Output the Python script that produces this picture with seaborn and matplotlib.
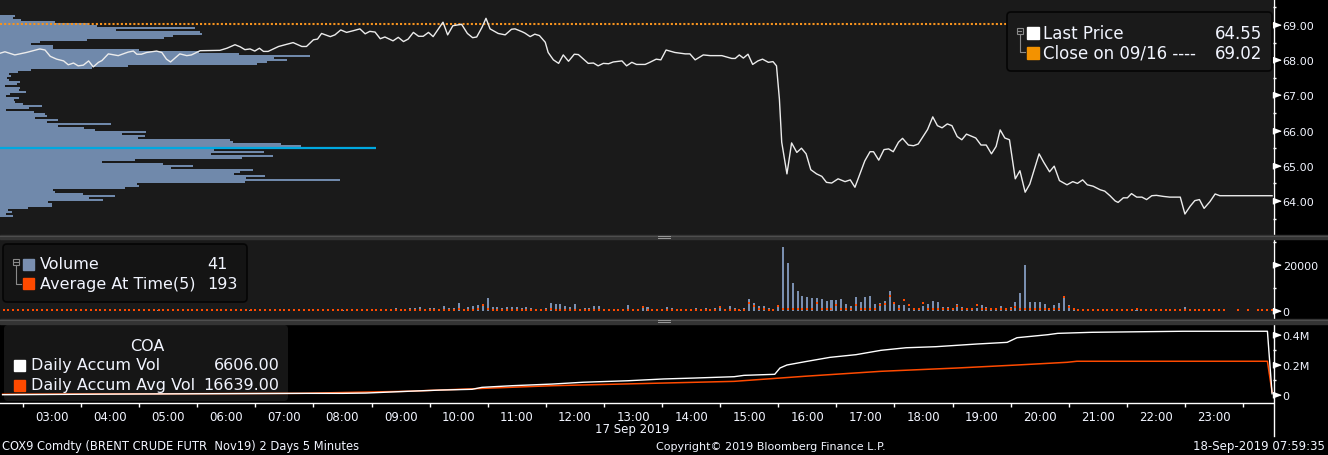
import numpy as np
import pandas as pd
import matplotlib
matplotlib.use("Agg")
import matplotlib.pyplot as plt
import seaborn as sns
from matplotlib.lines import Line2D
from matplotlib.patches import FancyBboxPatch, Rectangle
from matplotlib.transforms import Affine2D

# ---------------- data ----------------
# last price, time in hours of 17 Sep 2019
price_time = [2.11, 2.19, 2.36, 2.56, 2.79, 2.88, 2.97, 3.08, 3.20, 3.28, 3.37, 3.45, 3.54, 3.63, 3.71,
              3.80, 3.86, 3.97, 4.14, 4.31, 4.40, 4.46, 4.54, 4.63, 4.80, 4.89, 4.97, 5.04, 5.20, 5.32,
              5.40, 5.55, 5.89, 6.01, 6.15, 6.24, 6.32, 6.41, 6.49, 6.57, 6.64, 6.72, 6.90, 7.15, 7.30,
              7.38, 7.50, 7.57, 7.64, 7.79, 7.87, 7.97, 8.07, 8.19, 8.30, 8.39, 8.47, 8.56, 8.65,
              8.73, 8.87, 8.96, 9.05, 9.13, 9.22, 9.31, 9.39, 9.48, 9.56, 9.73, 9.81, 9.90, 10.05, 10.15,
              10.24, 10.31, 10.40, 10.47, 10.54, 10.68, 10.80, 10.91, 10.97, 11.09, 11.14, 11.23, 11.31,
              11.39, 11.49, 11.54, 11.63, 11.72, 11.80, 11.89, 11.99, 12.06, 12.23, 12.32, 12.40, 12.49,
              12.58, 12.66, 12.81, 12.89, 12.98, 13.06, 13.21, 13.29, 13.40, 13.48, 13.57, 13.72, 13.90,
              13.98, 14.07, 14.21, 14.33, 14.53, 14.70, 14.76, 14.83, 14.90, 14.98, 15.06, 15.15, 15.23,
              15.33, 15.41, 15.47, 15.52, 15.56, 15.65, 15.73, 15.82, 15.90, 15.98, 16.06, 16.16, 16.25,
              16.33, 16.42, 16.53, 16.65, 16.74, 16.82, 16.99, 17.08, 17.14, 17.23, 17.32, 17.40, 17.48,
              17.57, 17.64, 17.74, 17.83, 17.91, 18.07, 18.16, 18.24, 18.32, 18.41, 18.49, 18.58, 18.66,
              18.74, 18.90, 18.99, 19.08, 19.17, 19.25, 19.32, 19.40, 19.48,
              19.58, 19.66, 19.75, 19.83, 19.99, 20.07, 20.17, 20.25, 20.34, 20.47, 20.57, 20.65, 20.74,
              20.82, 20.92, 21.04, 21.12, 21.21, 21.30, 21.35, 21.44, 21.51, 21.58, 21.67, 21.76, 21.84,
              21.93, 22.01, 22.13, 22.24, 22.42, 22.50, 22.59, 22.67, 22.75, 22.83, 22.93, 23.02, 23.10,
              24.00]
price_value = [68.20, 68.24, 68.15, 68.22, 68.32, 68.29, 68.11, 68.03, 67.98, 67.87, 67.92, 67.84, 67.86,
               67.98, 67.81, 67.94, 67.99, 68.18, 68.13, 68.23, 68.26, 68.17, 68.17, 68.22, 68.26, 68.22,
               68.03, 67.95, 68.18, 68.13, 68.15, 68.27, 68.28, 68.34, 68.44, 68.38, 68.30, 68.32, 68.26,
               68.34, 68.25, 68.25, 68.39, 68.50, 68.39, 68.39, 68.58, 68.60, 68.76, 68.67, 68.72, 68.86,
               68.79, 68.84, 68.89, 68.75, 68.82, 68.80, 68.61,
               68.66, 68.55, 68.65, 68.53, 68.60, 68.79, 68.68, 68.68, 68.79, 68.67, 69.08, 68.72, 68.98,
               69.02, 68.76, 68.64, 68.66, 68.93, 69.19, 68.89, 68.76, 68.72, 68.88, 68.89, 68.81, 68.77,
               68.67, 68.74, 68.70, 68.51, 68.22, 68.01, 67.91, 68.15, 67.97, 68.17, 68.16, 67.91, 67.92,
               67.84, 67.91, 67.90, 67.95, 67.98, 67.84, 67.94, 67.88, 67.88, 67.94, 68.03, 68.01, 68.29,
               68.22, 68.18, 68.18, 68.01, 68.15, 68.13, 68.13, 68.05, 68.05, 68.15, 68.06, 68.17, 67.88,
               67.98, 68.03, 67.94, 67.96, 67.84, 66.90, 65.67, 64.77, 65.65, 65.38, 65.50, 65.34, 64.89,
               64.77, 64.70, 64.53, 64.51, 64.63, 64.55, 64.60, 64.39, 65.14, 65.40, 65.40, 65.16, 65.46,
               65.48, 65.40, 65.67, 65.78, 65.59, 65.57, 65.62, 66.03, 66.39, 66.14, 66.08, 66.19, 66.14,
               65.83, 65.74, 65.90, 65.79, 65.59, 65.59, 65.34, 65.55, 66.02, 65.79, 65.74,
               64.63, 64.86, 64.25, 64.48, 65.34, 65.10, 64.83, 64.99, 64.58, 64.46, 64.55, 64.50, 64.60,
               64.46, 64.42, 64.32, 64.28, 64.15, 64.00, 63.96, 64.09, 64.09, 64.21, 64.11, 64.11, 64.04,
               64.15, 64.16, 64.13, 64.11, 64.11, 63.63, 63.85, 64.01, 64.04, 63.79, 63.98, 64.20, 64.15,
               64.15]
close_prev = 69.02
last_price = 64.55

# volume-at-price profile, top price level downwards
profile_top = 69.256
profile_step = 0.0568
profile_volume = [45, 40, 63, 165, 265, 290, 585, 348, 600, 606,
                  518, 492, 261, 120, 93, 158, 158, 417, 596, 716,
                  930, 822, 860, 800, 770, 384, 276, 93, 54, 27,
                  33, 20, 27, 60, 51, 15, 60, 57, 78, 30,
                  18, 57, 42, 45, 69, 126, 87, 18, 102, 135,
                  141, 105, 174, 141, 333, 174, 252, 285, 438, 366,
                  435, 414, 690, 699, 843, 903, 1128, 642, 792, 633,
                  819, 726, 405, 306, 489, 579, 513, 759, 720, 702,
                  795, 738, 1020, 735, 411, 417, 375, 159, 165, 249,
                  345, 267, 309, 144, 156, 156, 84, 24, 36, 18,
                  39]

# 5 minute bars
bar_times = pd.date_range("2019-09-17 02:10", periods=263, freq="5min")
volume = [150, 100, 200, 100, 600, 200, 700, 900, 200, 100,
          150, 100, 200, 100, 150, 100, 200, 300, 100, 150,
          100, 300, 200, 100, 150, 300, 100, 150, 200, 100,
          300, 200, 100, 150, 100, 200, 300, 100, 150, 200,
          300, 100, 150, 300, 100, 200, 300, 150, 100, 200,
          300, 150, 100, 200, 150, 300, 100, 200, 150, 300,
          100, 200, 150, 300, 200, 800, 800, 200, 150, 300,
          200, 300, 150, 200, 300, 400, 200, 300, 800, 300,
          400, 1100, 300, 400, 1100, 1300, 1700, 800, 1300, 1300,
          800, 2200, 1000, 1300, 3500, 800, 1700, 2200, 2600, 3000,
          5600, 1700, 1700, 1300, 1700, 1700, 1700, 1300, 1700, 1300,
          900, 900, 1300, 3500, 3000, 3000, 2200, 1700, 3000, 900,
          1300, 1300, 2200, 2200, 200, 200, 900, 900, 900, 2600,
          900, 200, 1000, 1700, 200, 200, 200, 1700, 1300, 200,
          200, 200, 200, 1300, 300, 1300, 200, 1300, 1500, 200,
          2200, 1150, 200, 1150, 5200, 3500, 2200, 2000, 1300, 200,
          1700, 27600, 20700, 12100, 8600, 6500, 6000, 5600, 5600, 5200,
          4300, 4700, 4700, 5200, 3000, 2200, 6000, 3900, 6000, 6500,
          3000, 3500, 4300, 8600, 3900, 2600, 2600, 1300, 1300, 1300,
          2200, 3000, 4300, 3900, 1700, 1700, 1300, 3000, 1700, 1300,
          1300, 1000, 2600, 1700, 1300, 1300, 2200, 1300, 1700, 3900,
          7800, 19900, 3900, 3900, 3900, 3000, 1300, 2600, 3500, 5600,
          2600, 900, 900, 400, 200, 200, 200, 200, 700, 700,
          150, 100, 150, 100, 200, 100, 150, 100, 300, 300,
          100, 100, 150, 100, 1600, 400, 100, 150, 100, 100,
          150, 100, 100, 0, 0, 50, 0, 50, 0, 50,
          50, 50, 41]
nan = float("nan")
avg_at_time = [300, 250, 350, 300, 400, 300, 350, 400, 300, 250,
               300, 300, 250, 300, 300, 250, 300, 300, 250, 300,
               300, 350, 300, 250, 300, 300, 250, 300, 350, 300,
               300, 250, 300, 300, 250, 300, 350, 300, 300, 250,
               300, 300, 250, 300, 350, 300, 300, 250, 300, 300,
               350, 300, 250, 300, 300, 350, 300, 250, 300, 300,
               300, 250, 300, 350, 300, 400, 400, 300, 300, 250,
               300, 350, 300, 300, 350, 300, 300, 350, 400, 300,
               300, 500, 300, 350, 400, 400, 500, 350, 400, 400,
               350, 500, 400, 400, 700, 350, 400, 500, 600, 2600,
               600, 400, 400, 400, 400, 500, 400, 400, 500, 400,
               400, 400, 400, 700, 500, 400, 400, 400, 500, 400,
               400, 400, 400, 400, 300, 400, 300, 300, 300, 400,
               300, 300, 1700, 400, 400, 400, 400, 400, 400, 400,
               400, 400, 400, 400, 400, 400, 400, 400, 1500, 400,
               400, 400, 400, 400, 3500, 1900, 600, 600, 400, 400,
               2200, 900, 900, 800, 800, 900, 800, 800, 3500, 800,
               900, 800, 2600, 800, 900, 800, 2600, 800, 900, 800,
               800, 2600, 2900, 6600, 3500, 900, 4700, 2300, 800, 800,
               3200, 800, 900, 800, 800, 900, 800, 1900, 800, 800,
               800, 2300, 800, 800, 900, 800, 800, 800, 900, 1400,
               800, 800, 900, 900, 800, 800, 900, 800, 800, 6000,
               1700, 600, 500, 400, 400, 400, 400, 400, 300, 300,
               300, 300, 300, 300, 700, 300, 300, 300, 300, 300,
               300, 300, 300, 300, 300, 300, 300, 300, 300, 300,
               300, 300, 300, nan, nan, 300, nan, 300, nan, 300,
               300, 300, 193]

# COA: daily accumulated volume and its average
coa_time = [2.15, 4.00, 7.27, 8.00, 8.40, 9.14, 9.69, 10.23, 10.40, 10.92, 11.61, 12.14, 12.91, 13.53,
            14.05, 14.74, 14.91, 15.44, 15.53, 15.65, 15.96, 16.39, 16.84, 17.27, 17.70, 18.21, 18.92,
            19.44, 19.61, 20.14, 20.31, 20.90, 22.47, 23.92, 24.00]
coa_accum = [0, 4000, 9000, 9000, 11000, 23000, 31000, 36000, 49000, 60000, 71000, 83000, 93000, 105000,
             111000, 120000, 129000, 136000, 178000, 198000, 220000, 249000, 267000, 296000, 313000,
             320000, 338000, 349000, 380000, 400000, 409000, 416000, 423000, 423000, 6606]
coa_avg_time = [2.15, 7.27, 9.14, 11.61, 14.74, 15.96, 17.27, 18.58, 19.61, 20.47, 20.64, 23.92, 24.00]
coa_avg = [3000, 9000, 23000, 60000, 89000, 123000, 156000, 178000, 198000, 216000, 223000, 223000, 16639]

hour_labels = ["%02d:00" % h for h in range(3, 24)]
price_ticks = [64, 65, 66, 67, 68, 69]
price_minor = [63.5, 64.5, 65.5, 66.5, 67.5, 68.5, 69.5]
vol_ticks, vol_minor = [0, 20000], [10000, 30000]
coa_ticks, coa_minor = [0, 200000, 400000], [100000, 300000]

# ---------------- figure ----------------
W, H = 1328, 456
BG = "#1a1a1a"
PROFILE_BLUE = "#7089ab"
VOL_BLUE = "#7a8fb0"
AVG_RED = "#ff4a00"
CLOSE_ORANGE = "#f7931e"
POC_CYAN = "#00a8e0"
TXT = "#f2f5ff"

fig = plt.figure(figsize=(W / 100, H / 100), dpi=100, facecolor="black")
PX = Affine2D().scale(1 / W, -1 / H).translate(0, 1) + fig.transFigure


def rect(l, t, r, b):
    return [l / W, 1 - b / H, (r - l) / W, (b - t) / H]


CARET = [(0, -0.45), (0, 0.45), (1.2, 0)]


def right_axis(a, major, labels, minor):
    a.yaxis.tick_right()
    a.set_yticks(major)
    a.set_yticklabels(labels)
    a.set_yticks(minor, minor=True)
    a.tick_params(axis="y", which="major", length=0, pad=7, labelsize=8, labelcolor=TXT)
    a.tick_params(axis="y", which="minor", length=2.5, width=1, color="white", direction="out")
    for s in a.spines.values():
        s.set_visible(False)
    a.plot(np.ones(len(major)), major, ls="none", marker=CARET, ms=11, color="white",
           transform=a.get_yaxis_transform(), clip_on=False)
    a.set_xlabel("")
    a.set_ylabel("")


XL, XR = 2.105, 24.016
hours = ((bar_times - pd.Timestamp("2019-09-17")) / pd.Timedelta(hours=1)).to_numpy()
P_LO, P_HI = 63.048, 69.739

# price panel, profile underneath
ax_prof = fig.add_axes(rect(0, 0, 1273, 235.5))
ax_prof.set_facecolor(BG)
profile_price = profile_top - profile_step * np.arange(len(profile_volume))
sns.barplot(x=profile_volume, y=profile_price, orient="h", native_scale=True, width=1.0,
            color=PROFILE_BLUE, saturation=1, linewidth=0, errorbar=None, ax=ax_prof)
poc = int(np.argmax(profile_volume))
ax_prof.hlines(profile_price[poc], 0, profile_volume[poc], color=POC_CYAN, lw=1.6)
ax_prof.set_xlim(0, 3819)
ax_prof.set_xticks([])
ax_prof.set_yticks([])
ax_prof.set_xlabel("")
ax_prof.set_ylabel("")
for s in ax_prof.spines.values():
    s.set_visible(False)

ax = fig.add_axes(rect(0, 0, 1273, 235.5))
ax.patch.set_visible(False)
ax.axhline(close_prev, color=CLOSE_ORANGE, lw=1.5, ls=(0, (1, 1)))
sns.lineplot(x=price_time, y=price_value, color="#ececec", lw=1.0, ax=ax)
right_axis(ax, price_ticks, ["%.2f" % p for p in price_ticks], price_minor)
ax.set_xticks([])
ax.set_xlim(XL, XR)
ax.set_ylim(P_LO, P_HI)
ax_prof.set_ylim(P_LO, P_HI)

# volume panel
ax_v = fig.add_axes(rect(0, 240.5, 1273, 320))
ax_v.set_facecolor(BG)
sns.barplot(x=hours, y=volume, native_scale=True, width=0.42, color=VOL_BLUE, saturation=1,
            linewidth=0, errorbar=None, ax=ax_v)
sns.scatterplot(x=hours, y=avg_at_time, marker="s", s=2.5, color=AVG_RED, linewidth=0, ax=ax_v)
right_axis(ax_v, vol_ticks, ["0", "20000"], vol_minor)
ax_v.set_xticks([])
ax_v.set_xlim(XL, XR)
ax_v.set_ylim(-3609, 30958)

# COA panel
ax_c = fig.add_axes(rect(0, 324.5, 1273, 404))
ax_c.set_facecolor("black")
sns.lineplot(x=coa_avg_time, y=coa_avg, color=AVG_RED, lw=1.1, ax=ax_c)
sns.lineplot(x=coa_time, y=coa_accum, color="white", lw=1.0, ax=ax_c)
right_axis(ax_c, coa_ticks, ["0", "0.2M", "0.4M"], coa_minor)
ax_c.set_xticks(range(3, 24))
ax_c.set_xticklabels(hour_labels)
ax_c.set_xticks(np.arange(2.5, 24, 1.0), minor=True)
ax_c.tick_params(axis="x", which="major", length=0, pad=5, labelsize=8.5, labelcolor=TXT)
ax_c.tick_params(axis="x", which="minor", length=3, width=1, color="white", direction="out")
ax_c.spines["bottom"].set_visible(True)
ax_c.spines["bottom"].set_color("white")
ax_c.spines["bottom"].set_linewidth(1)
ax_c.set_xlim(XL, XR)
ax_c.set_ylim(-55300, 474700)

# frame pieces
fig.add_artist(Line2D([1273.5, 1273.5], [0, 437], transform=PX, color="white", lw=1, zorder=4))
for top in (235.5, 320):
    fig.add_artist(Rectangle((0, top), W, 4.5, transform=PX, color="#343434", zorder=5))
    fig.add_artist(Line2D([0, W], [top + 1.3, top + 1.3], transform=PX, color="#4e4e4e", lw=0.8, zorder=5))
    for dy in (1.3, 3.2):
        fig.add_artist(Line2D([658, 670], [top + dy, top + dy], transform=PX, color="#9a9a9a", lw=0.7, zorder=6))

# legend: price
fig.add_artist(FancyBboxPatch((1007, 13), 265, 59, boxstyle="round,pad=0,rounding_size=4", transform=PX,
                              facecolor=BG, edgecolor="#050505", lw=1.2, zorder=3))
fig.add_artist(Rectangle((1016.5, 28.5), 6, 6, transform=PX, facecolor="none", edgecolor="#8a8a8a", lw=0.8, zorder=4))
fig.add_artist(Line2D([1017.8, 1021.2], [31.5, 31.5], transform=PX, color="#8a8a8a", lw=0.8, zorder=4))
fig.add_artist(Line2D([1019.5, 1019.5, 1025], [34.5, 53, 53], transform=PX, color="#8a8a8a", lw=0.8, zorder=4))
fig.add_artist(Rectangle((1027, 28), 12, 12, transform=PX, color="white", zorder=4))
fig.add_artist(Rectangle((1027, 48), 12, 12, transform=PX, color="#f39200", zorder=4))
fig.text(1043, 34, "Last Price", transform=PX, fontsize=12, color=TXT, va="center", zorder=6)
fig.text(1262, 34, "%.2f" % last_price, transform=PX, fontsize=12, color=TXT, va="center", ha="right", zorder=6)
fig.text(1043, 54, "Close on 09/16 ----", transform=PX, fontsize=12, color=TXT, va="center", zorder=6)
fig.text(1262, 54, "%.2f" % close_prev, transform=PX, fontsize=12, color=TXT, va="center", ha="right", zorder=6)

# legend: volume
fig.add_artist(FancyBboxPatch((3, 245), 244, 58, boxstyle="round,pad=0,rounding_size=4", transform=PX,
                              facecolor="#141414", edgecolor="#050505", lw=1.2, zorder=3))
fig.add_artist(Rectangle((13, 259.5), 6, 6, transform=PX, facecolor="none", edgecolor="#8a8a8a", lw=0.8, zorder=4))
fig.add_artist(Line2D([14.3, 17.7], [262.5, 262.5], transform=PX, color="#8a8a8a", lw=0.8, zorder=4))
fig.add_artist(Line2D([16, 16, 21], [265.5, 285, 285], transform=PX, color="#8a8a8a", lw=0.8, zorder=4))
fig.add_artist(Rectangle((23, 259.5), 11, 11, transform=PX, color=VOL_BLUE, zorder=4))
fig.add_artist(Rectangle((23, 279), 11, 11, transform=PX, color=AVG_RED, zorder=4))
fig.text(39.5, 265, "Volume", transform=PX, fontsize=11.5, color=TXT, va="center", zorder=6)
fig.text(228, 265, "%d" % volume[-1], transform=PX, fontsize=11.5, color=TXT, va="center", ha="right", zorder=6)
fig.text(39.5, 284.5, "Average At Time(5)", transform=PX, fontsize=11.5, color=TXT, va="center", zorder=6)
fig.text(237.5, 284.5, "%d" % avg_at_time[-1], transform=PX, fontsize=11.5, color=TXT, va="center", ha="right", zorder=6)

# legend: COA
ax_c.add_artist(FancyBboxPatch((4, 326), 284, 76, boxstyle="round,pad=0,rounding_size=4", transform=PX,
                               facecolor="#161616", edgecolor="none", zorder=0.5, clip_on=False))
fig.add_artist(Rectangle((14, 360.5), 11, 11, transform=PX, color="white", zorder=4))
fig.add_artist(Rectangle((14, 380.5), 11, 11, transform=PX, color=AVG_RED, zorder=4))
fig.text(147, 346.7, "COA", transform=PX, fontsize=11.5, color=TXT, va="center", ha="center", zorder=6)
fig.text(30.7, 365.7, "Daily Accum Vol", transform=PX, fontsize=11.5, color=TXT, va="center", zorder=6)
fig.text(279.3, 365.7, "%.2f" % coa_accum[-1], transform=PX, fontsize=11.5, color=TXT, va="center", ha="right", zorder=6)
fig.text(30.7, 385.7, "Daily Accum Avg Vol", transform=PX, fontsize=11.5, color=TXT, va="center", zorder=6)
fig.text(279.3, 385.7, "%.2f" % coa_avg[-1], transform=PX, fontsize=11.5, color=TXT, va="center", ha="right", zorder=6)

# footer
fig.text(632, 430, "17 Sep 2019", transform=PX, fontsize=8.5, color=TXT, va="center", ha="center")
fig.text(2, 447, "COX9 Comdty (BRENT CRUDE FUTR  Nov19) 2 Days 5 Minutes", transform=PX, fontsize=8.3,
         color=TXT, va="center")
fig.text(656, 447, "Copyright\u00a9 2019 Bloomberg Finance L.P.", transform=PX, fontsize=8, color=TXT, va="center")
fig.text(1325, 447, "18-Sep-2019 07:59:35", transform=PX, fontsize=8.5, color=TXT, va="center", ha="right")

fig.savefig("out.png", dpi=100, facecolor="black")
